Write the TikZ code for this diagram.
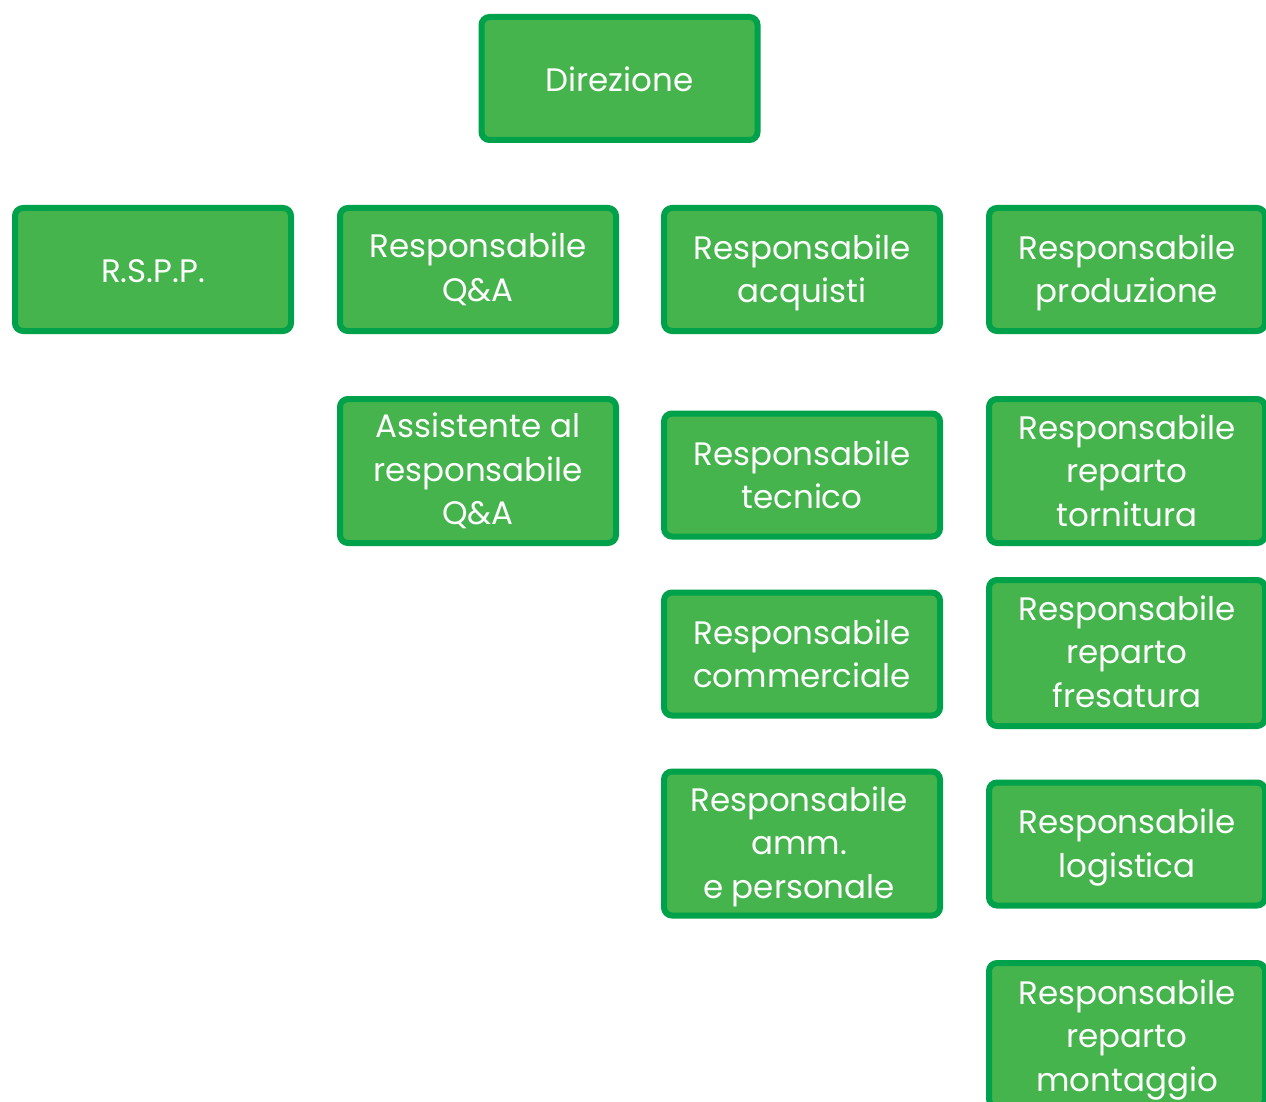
\documentclass[tikz,border=0pt]{standalone}
\usepackage{fontspec}
\setmainfont{Poppins}
\definecolor{boxfill}{HTML}{45B44D}
\definecolor{boxline}{HTML}{00A14B}
\begin{document}
\begin{tikzpicture}[x=1pt,y=-1pt,
  orgbox/.style={draw=boxline, fill=boxfill, line width=6pt, rounded corners=8pt,
    minimum width=276pt, minimum height=123pt, inner sep=0pt},
  tall/.style={minimum height=144pt},
  boxtext/.style={text=white, align=center, inner sep=0pt,
    font=\fontsize{32.5}{43.5}\selectfont}]
\useasboundingbox (0,0) rectangle (1266,1102);
\clip (0,0) rectangle (1266,1102);
\fill[white] (0,0) rectangle (1266,1102);
\node[orgbox] (dir) at (619.5,78.5) {};
\node[orgbox] (rspp) at (153,269.5) {};
\node[orgbox] (qa) at (478,269.5) {};
\node[orgbox] (acq) at (802,269.5) {};
\node[orgbox] (prod) at (1127,269.5) {};
\node[orgbox,tall] (ass) at (478,471) {};
\node[orgbox] (tec) at (802,475) {};
\node[orgbox] (com) at (802,654) {};
\node[orgbox,tall] (amm) at (802,843.5) {};
\node[orgbox,tall] (torn) at (1127,471) {};
\node[orgbox,minimum height=146pt] (fres) at (1127,653) {};
\node[orgbox] (log) at (1127,844) {};
\node[orgbox,tall] (mont) at (1127,1035) {};
\node[boxtext] (dir-t) at ([yshift=-1pt]dir.center) {Direzione};
\node[boxtext] (rspp-t) at ([yshift=-1.5pt]rspp.center) {R.S.P.P.};
\node[boxtext] (qa-t) at ([yshift=0pt]qa.center) {Responsabile\\Q\&A};
\node[boxtext] (acq-t) at ([yshift=-3.5pt]acq.center) {Responsabile\\acquisti};
\node[boxtext] (prod-t) at ([yshift=-3.5pt]prod.center) {Responsabile\\produzione};
\node[boxtext] (ass-t) at ([yshift=0pt]ass.center) {Assistente al\\responsabile\\Q\&A};
\node[boxtext] (tec-t) at ([yshift=0pt]tec.center) {Responsabile\\tecnico};
\node[boxtext] (com-t) at ([yshift=0pt]com.center) {Responsabile\\commerciale};
\node[boxtext] (amm-t) at ([xshift=-3pt,yshift=-3pt]amm.center) {Responsabile\\amm.\\e personale};
\node[boxtext] (torn-t) at ([yshift=0.5pt]torn.center) {Responsabile\\reparto\\tornitura};
\node[boxtext] (fres-t) at ([yshift=1.5pt]fres.center) {Responsabile\\reparto\\fresatura};
\node[boxtext] (log-t) at ([yshift=-3.5pt]log.center) {Responsabile\\logistica};
\node[boxtext] (mont-t) at ([yshift=-5pt]mont.center) {Responsabile\\reparto\\montaggio};
\end{tikzpicture}
\end{document}
